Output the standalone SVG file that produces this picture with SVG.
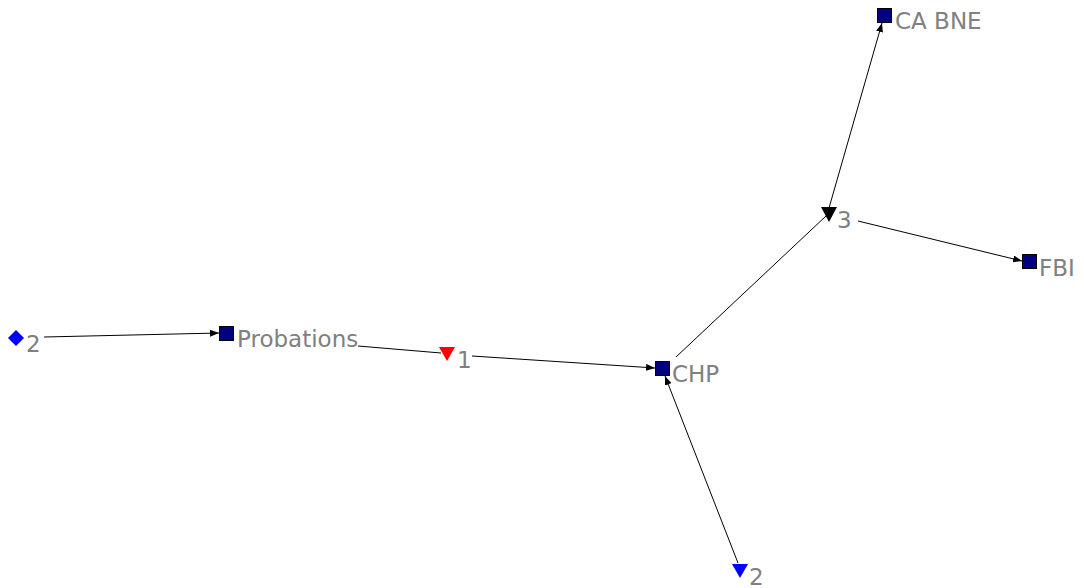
<svg xmlns="http://www.w3.org/2000/svg" width="1084" height="588" viewBox="0 0 1084 588">
  <style>
    .lbl { font-family: "DejaVu Sans", Verdana, sans-serif; font-size: 23px; fill: #808080; }
    .edge { stroke: #000; stroke-width: 1; fill: none; }
    .sq { fill: #000080; stroke: #000; stroke-width: 1; }
  </style>
  <defs>
    <marker id="arrow" markerUnits="userSpaceOnUse" markerWidth="9" markerHeight="7" refX="9" refY="3.5" orient="auto">
      <path d="M0,0 L9,3.5 L0,7 Z" fill="#000"/>
    </marker>
  </defs>
  <rect width="1084" height="588" fill="#fff"/>

  <g id="connectors">
    <line class="edge" x1="44" y1="337" x2="219" y2="333" marker-end="url(#arrow)"/>
    <line class="edge" x1="358" y1="346" x2="441" y2="353"/>
    <line class="edge" x1="472" y1="356" x2="655" y2="368" marker-end="url(#arrow)"/>
    <line class="edge" x1="676" y1="357" x2="826" y2="216"/>
    <line class="edge" x1="829" y1="208" x2="882" y2="23" marker-end="url(#arrow)"/>
    <line class="edge" x1="858" y1="221" x2="1022" y2="261" marker-end="url(#arrow)"/>
    <line class="edge" x1="738" y1="563" x2="665" y2="376" marker-end="url(#arrow)"/>
  </g>

  <g id="node-2-left">
    <polygon points="16,330 24,338 16,346 8,338" fill="#0000ff"/>
    <text class="lbl" x="26" y="352">2</text>
  </g>
  <g id="node-probations">
    <rect class="sq" x="219.5" y="326.5" width="14" height="14"/>
    <text class="lbl" x="237" y="347">Probations</text>
  </g>
  <g id="node-1">
    <polygon points="439,347 455,347 447,361" fill="#ff0000"/>
    <text class="lbl" x="457" y="368">1</text>
  </g>
  <g id="node-chp">
    <rect class="sq" x="655.5" y="361.5" width="14" height="14"/>
    <text class="lbl" x="672" y="382">CHP</text>
  </g>
  <g id="node-3">
    <polygon points="821,207 837,207 829,222" fill="#000"/>
    <text class="lbl" x="837" y="228">3</text>
  </g>
  <g id="node-ca-bne">
    <rect class="sq" x="877.5" y="8.5" width="14" height="14"/>
    <text class="lbl" x="895" y="29">CA BNE</text>
  </g>
  <g id="node-fbi">
    <rect class="sq" x="1022.5" y="254.5" width="14" height="14"/>
    <text class="lbl" x="1039" y="276">FBI</text>
  </g>
  <g id="node-2-bottom">
    <polygon points="732,564 748,564 740,578" fill="#0000ff"/>
    <text class="lbl" x="749" y="585">2</text>
  </g>
</svg>
